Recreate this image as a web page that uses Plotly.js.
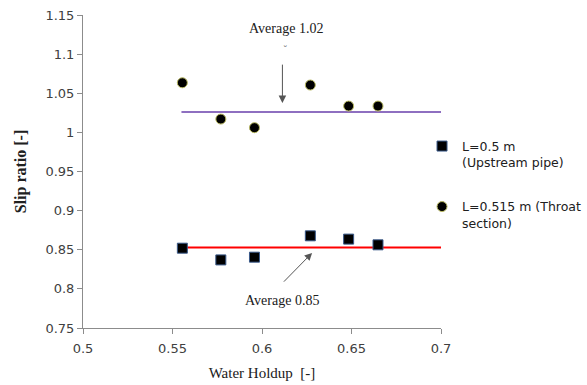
<!DOCTYPE html>
<html>
<head>
<meta charset="utf-8">
<script src="https://cdn.plot.ly/plotly-3.0.1.min.js"></script>
<style>html,body{margin:0;padding:0;background:#fff;}#chart{width:587px;height:385px;}</style>
</head>
<body>
<div id="chart"></div>
<script>
// Water holdup values (x)
var holdup = [0.5555, 0.577, 0.5958, 0.627, 0.6484, 0.6648];
// Slip ratio, L=0.5 m (Upstream pipe)
var slipUpstream = [0.852, 0.837, 0.8405, 0.8678, 0.8636, 0.8563];
// Slip ratio, L=0.515 m (Throat section)
var slipThroat = [1.0634, 1.017, 1.006, 1.0605, 1.0336, 1.0336];
// Average lines
var avgX = [0.555, 0.70];
var avgUpstream = [0.853, 0.853];
var avgThroat = [1.026, 1.026];
var xTicks = [0.5, 0.55, 0.6, 0.65, 0.7];
var yTicks = [0.75, 0.8, 0.85, 0.9, 0.95, 1, 1.05, 1.1, 1.15];

var traces = [
  {x: avgX, y: avgThroat, mode: 'lines', line: {color: '#8E6FC0', width: 2}, showlegend: false, hoverinfo: 'skip'},
  {x: avgX, y: avgUpstream, mode: 'lines', line: {color: '#FF0000', width: 2}, showlegend: false, hoverinfo: 'skip'},
  {x: holdup, y: slipUpstream, mode: 'markers', name: 'L=0.5 m<br>(Upstream pipe)', legendgroup: 'a',
   marker: {symbol: 'square', size: 10, color: '#000000', line: {color: '#3A5A8A', width: 1}}},
  {x: holdup, y: slipThroat, mode: 'markers', name: 'L=0.515 m (Throat<br>section)', legendgroup: 'b',
   marker: {symbol: 'circle', size: 10, color: '#000000', line: {color: '#B8B860', width: 1}}}
];

var serif = 'Liberation Serif, Times New Roman, serif';
var layout = {
  width: 587, height: 385,
  margin: {l: 83, r: 146, t: 15, b: 57, autoexpand: false},
  paper_bgcolor: '#ffffff', plot_bgcolor: '#ffffff',
  font: {family: 'DejaVu Sans, sans-serif', size: 13, color: '#404040'},
  xaxis: {range: [0.5, 0.7], tickvals: xTicks, showgrid: false, zeroline: false, automargin: false,
    showline: true, linecolor: '#8c8c8c', linewidth: 1, ticks: 'outside', ticklen: 5, tickcolor: '#8c8c8c',
    ticklabelstandoff: 3,
    tickfont: {size: 13, color: '#404040'},
    title: {text: 'Water Holdup  [-]', font: {family: serif, size: 15, color: '#202020'}, standoff: 12}},
  yaxis: {range: [0.75, 1.15], tickvals: yTicks, showgrid: false, zeroline: false, automargin: false,
    showline: true, linecolor: '#8c8c8c', linewidth: 1, ticks: 'outside', ticklen: 5, tickcolor: '#8c8c8c',
    tickfont: {size: 13, color: '#404040'},
    title: {text: '<b>Slip ratio [-]</b>', font: {family: serif, size: 16, color: '#202020'}, standoff: 14}},
  legend: {x: 0.947, xanchor: 'left', y: 0.628, yanchor: 'top', valign: 'top',
    traceorder: 'grouped', tracegroupgap: 25, itemwidth: 30,
    font: {family: 'DejaVu Sans, sans-serif', size: 12.5, color: '#202020'}, bgcolor: 'rgba(0,0,0,0)'},
  annotations: [
    {x: 0.6136, y: 1.15, xref: 'x', yref: 'y', yshift: -13, text: 'Average 1.02', showarrow: false,
     font: {family: serif, size: 14, color: '#202020'}},
    {x: 0.613, y: 1.105, xref: 'x', yref: 'y', text: '˘', showarrow: false,
     font: {family: 'DejaVu Sans, sans-serif', size: 9, color: '#606060'}},
    {x: 0.6114, y: 1.0375, xref: 'x', yref: 'y', ax: 0.6114, ay: 1.0885, axref: 'x', ayref: 'y',
     text: '', showarrow: true, arrowhead: 2, arrowsize: 1.5, arrowwidth: 1, arrowcolor: '#555555'},
    {x: 0.6112, y: 0.7856, xref: 'x', yref: 'y', text: 'Average 0.85', showarrow: false,
     font: {family: serif, size: 14, color: '#202020'}},
    {x: 0.628, y: 0.846, xref: 'x', yref: 'y', ax: 0.6114, ay: 0.8073, axref: 'x', ayref: 'y',
     text: '', showarrow: true, arrowhead: 2, arrowsize: 1.5, arrowwidth: 1, arrowcolor: '#555555'}
  ]
};
Plotly.newPlot('chart', traces, layout, {displayModeBar: false, staticPlot: true});
</script>
</body>
</html>
